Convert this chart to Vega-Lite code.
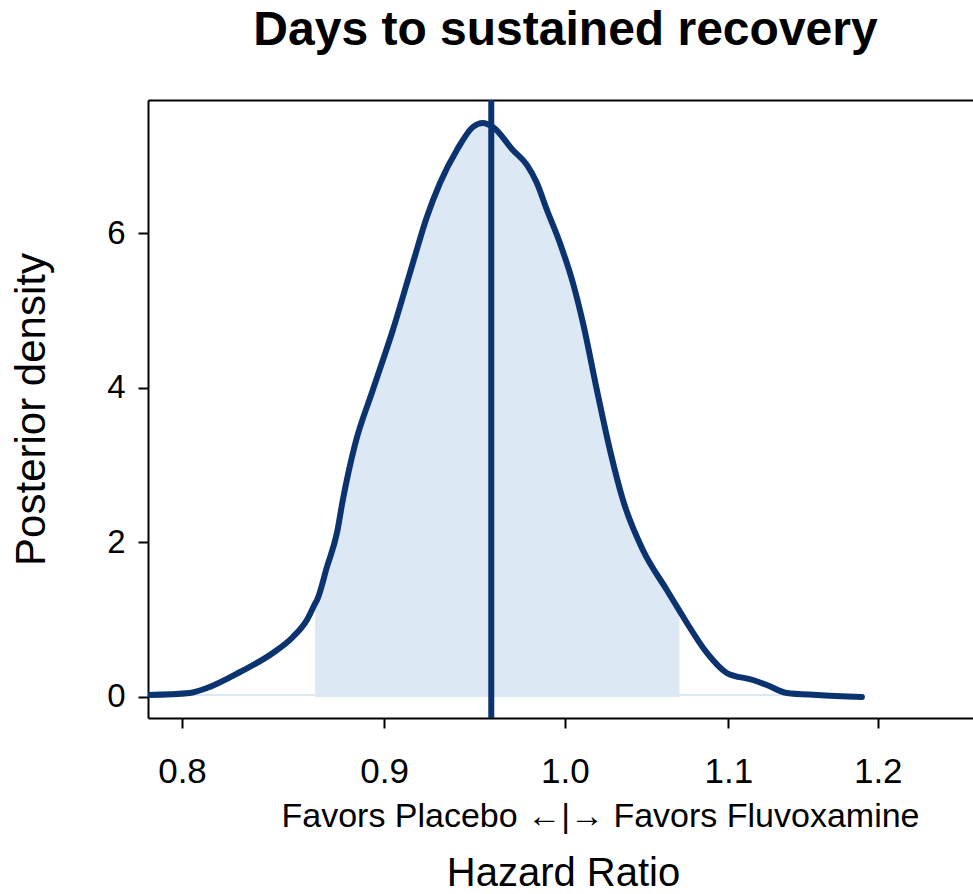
{
  "$schema": "https://vega.github.io/schema/vega-lite/v6.json",
  "width": 825,
  "height": 618,
  "autosize": {"type": "none"},
  "padding": {"left": 148, "top": 100, "right": 0, "bottom": 176},
  "background": "white",
  "config": {
    "view": {"stroke": null},
    "font": "Liberation Sans",
    "axis": {
      "grid": false,
      "domainColor": "black",
      "tickColor": "black",
      "domainWidth": 2,
      "tickWidth": 2,
      "tickSize": 10,
      "labelColor": "black",
      "titleColor": "black",
      "labelFont": "Liberation Sans",
      "titleFont": "Liberation Sans",
      "titleFontWeight": "normal"
    }
  },
  "title": {
    "text": "Days to sustained recovery",
    "fontSize": 48,
    "fontWeight": "bold",
    "font": "Liberation Sans",
    "color": "black",
    "anchor": "middle",
    "baseline": "alphabetic",
    "dx": 5,
    "offset": 4
  },
  "datasets": {
    "density": [
      {"hr": 0.7843, "density": 0.026},
      {"hr": 0.8037, "density": 0.052},
      {"hr": 0.8117, "density": 0.116},
      {"hr": 0.8275, "density": 0.323},
      {"hr": 0.8435, "density": 0.569},
      {"hr": 0.8534, "density": 0.776},
      {"hr": 0.8604, "density": 0.996},
      {"hr": 0.8645, "density": 1.207},
      {"hr": 0.8655, "density": 1.254},
      {"hr": 0.8705, "density": 1.681},
      {"hr": 0.8756, "density": 2.121},
      {"hr": 0.8786, "density": 2.548},
      {"hr": 0.8848, "density": 3.26},
      {"hr": 0.8941, "density": 3.97},
      {"hr": 0.9046, "density": 4.746},
      {"hr": 0.9152, "density": 5.612},
      {"hr": 0.9227, "density": 6.207},
      {"hr": 0.9298, "density": 6.647},
      {"hr": 0.939, "density": 7.074},
      {"hr": 0.9478, "density": 7.371},
      {"hr": 0.9533, "density": 7.423},
      {"hr": 0.9589, "density": 7.371},
      {"hr": 0.9701, "density": 7.074},
      {"hr": 0.9781, "density": 6.88},
      {"hr": 0.9838, "density": 6.647},
      {"hr": 0.9896, "density": 6.298},
      {"hr": 0.9971, "density": 5.871},
      {"hr": 1.0047, "density": 5.354},
      {"hr": 1.0106, "density": 4.836},
      {"hr": 1.0188, "density": 3.97},
      {"hr": 1.0266, "density": 3.194},
      {"hr": 1.0344, "density": 2.548},
      {"hr": 1.0465, "density": 1.901},
      {"hr": 1.0612, "density": 1.384},
      {"hr": 1.069, "density": 1.117},
      {"hr": 1.0737, "density": 0.957},
      {"hr": 1.0863, "density": 0.569},
      {"hr": 1.099, "density": 0.31},
      {"hr": 1.1158, "density": 0.22},
      {"hr": 1.1249, "density": 0.155},
      {"hr": 1.1381, "density": 0.052},
      {"hr": 1.1582, "density": 0.026},
      {"hr": 1.189, "density": 0.0}
    ],
    "summary": [{"median": 0.958, "lower": 0.8645, "upper": 1.069}]
  },
  "resolve": {"axis": {"x": "independent", "y": "shared"}},
  "layer": [
    {
      "data": {"name": "density"},
      "transform": [{"filter": "datum.hr >= 0.8645 && datum.hr <= 1.069"}],
      "mark": {"type": "area", "color": "#dde8f5", "interpolate": "monotone"},
      "encoding": {
        "x": {
          "field": "hr",
          "type": "quantitative",
          "scale": {"type": "log", "domain": [0.7843, 1.2685], "nice": false, "zero": false},
          "axis": {
            "orient": "bottom",
            "values": [0.8, 0.9, 1.0, 1.1, 1.2],
            "format": ".1f",
            "labelFontSize": 35,
            "labelPadding": 26,
            "title": "Favors Placebo ←|→ Favors Fluvoxamine",
            "titleFontSize": 34,
            "titleX": 452,
            "titlePadding": 10
          }
        },
        "y": {
          "field": "density",
          "type": "quantitative",
          "scale": {"domain": [-0.2716, 7.72], "nice": false, "zero": false},
          "axis": {
            "orient": "left",
            "values": [0, 2, 4, 6],
            "format": "d",
            "labelFontSize": 33,
            "labelPadding": 13,
            "title": "Posterior density",
            "titleFontSize": 42,
            "titlePadding": 53
          }
        },
        "y2": {"datum": 0}
      }
    },
    {
      "data": {"name": "density"},
      "transform": [{"filter": "datum.hr <= 1.14"}],
      "mark": {"type": "rule", "color": "#dde8f5", "strokeWidth": 2},
      "encoding": {
        "x": {"aggregate": "min", "field": "hr", "type": "quantitative", "axis": null},
        "x2": {"aggregate": "max", "field": "hr"},
        "y": {"aggregate": "min", "field": "density", "type": "quantitative"}
      }
    },
    {
      "data": {"name": "density"},
      "mark": {"type": "line", "color": "#0b3370", "strokeWidth": 6, "interpolate": "monotone", "strokeCap": "round", "clip": true},
      "encoding": {
        "x": {
          "field": "hr",
          "type": "quantitative",
          "axis": {
            "orient": "bottom",
            "labels": false,
            "ticks": false,
            "domain": false,
            "title": "Hazard Ratio",
            "titleFontSize": 40,
            "titleX": 415,
            "titlePadding": 135
          }
        },
        "y": {"field": "density", "type": "quantitative"}
      }
    },
    {
      "data": {"name": "summary"},
      "mark": {"type": "rule", "color": "#0b3370", "strokeWidth": 6},
      "encoding": {
        "x": {
          "field": "median",
          "type": "quantitative",
          "axis": {"orient": "top", "labels": false, "ticks": false, "title": null, "domain": true}
        }
      }
    }
  ]
}
